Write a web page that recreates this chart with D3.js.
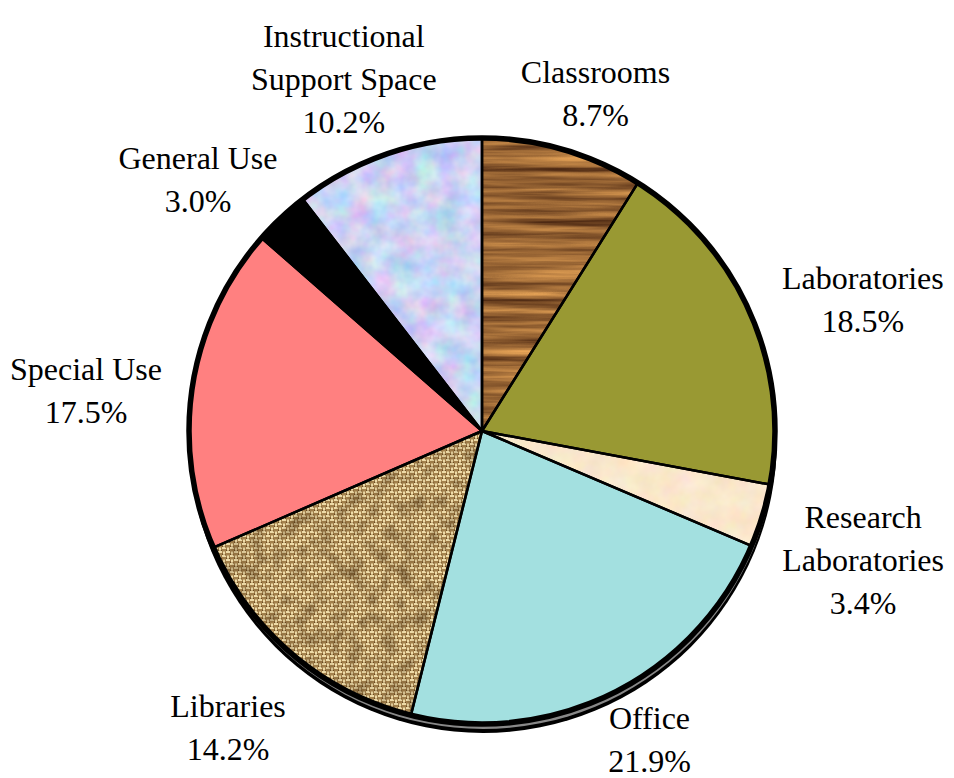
<!DOCTYPE html>
<html>
<head>
<meta charset="utf-8">
<script src="https://cdn.jsdelivr.net/npm/d3@7"></script>
<style>
  body { margin: 0; background: #fff; }
  svg { display: block; }
  text { font-family: "Liberation Serif", "Times New Roman", serif; }
</style>
</head>
<body>
<div id="chart"></div>
<script>
// 空间用途分布饼图
const categories = ['Classrooms', 'Laboratories', 'Research Laboratories', 'Office',
  'Libraries', 'Special Use', 'General Use', 'Instructional Support Space'];
const values = [8.7, 18.5, 3.4, 21.9, 14.2, 17.5, 3.0, 10.2];
const labelLines = [['Classrooms'], ['Laboratories'], ['Research', 'Laboratories'], ['Office'],
  ['Libraries'], ['Special Use'], ['General Use'], ['Instructional', 'Support Space']];
const fills = ['wood', '#999933', 'parchment', '#a3e0e0',
  'burlap', '#ff8080', '#000000', 'bluepaper'];

const width = 954, height = 778;
const cx = 482, cy = 431, R = 293;

const svg = d3.select('#chart').append('svg')
  .attr('width', width).attr('height', height);
const defs = svg.append('defs');

// 纹理滤镜
function noiseFilter(id, freq, octaves, matrix, seed) {
  const f = defs.append('filter').attr('id', id)
    .attr('x', 0).attr('y', 0).attr('width', 1).attr('height', 1)
    .attr('filterUnits', 'objectBoundingBox')
    .attr('color-interpolation-filters', 'sRGB');
  f.append('feTurbulence').attr('type', 'fractalNoise')
    .attr('baseFrequency', freq).attr('numOctaves', octaves).attr('seed', seed || 3);
  f.append('feColorMatrix').attr('type', 'matrix').attr('values', matrix);
}
noiseFilter('woodF', '0.005 0.12', 4,
  '0.9 0 0 0 0.14  0.72 0 0 0 0.03  0.4 0 0 0 0.0  0 0 0 0 1', 7);
noiseFilter('paperF', '0.05', 3,
  '0.06 0 0 0 0.95  0 0.09 0 0 0.86  0 0 0.14 0 0.73  0 0 0 0 1', 2);
noiseFilter('blueF', '0.045', 3,
  '0.38 0 0 0 0.6  0 0.32 0 0 0.67  0 0 0.16 0 0.87  0 0 0 0 1', 5);
noiseFilter('burlapF', '0.06', 2,
  '0 0 0 0 0.3  0 0 0 0 0.2  0 0 0 0 0.08  1.2 0 0 0 -0.52', 9);

// 麻布编织纹理
const weave = defs.append('pattern').attr('id', 'weave')
  .attr('patternUnits', 'userSpaceOnUse').attr('width', 8).attr('height', 8);
weave.append('rect').attr('width', 8).attr('height', 8).attr('fill', '#a4824d');
[[0, 0, 4, 2], [4, 4, 4, 2], [5, 0.5, 2, 3], [1, 4.5, 2, 3]].forEach(r => {
  weave.append('rect').attr('x', r[0]).attr('y', r[1]).attr('width', r[2]).attr('height', r[3])
    .attr('fill', '#eedba8');
});
[[4, 2.5, 1, 1.5], [0, 6.5, 1, 1.5], [3, 7, 1, 1], [7, 3.5, 1, 1]].forEach(r => {
  weave.append('rect').attr('x', r[0]).attr('y', r[1]).attr('width', r[2]).attr('height', r[3])
    .attr('fill', '#6a4b22');
});

const pie = d3.pie().sort(null).value(d => d);
const arcs = pie(values);
const arc = d3.arc().innerRadius(0).outerRadius(R);

// 阴影（底部立体边）
svg.append('circle').attr('cx', cx + 1).attr('cy', cy + 8).attr('r', R + 1)
  .attr('fill', '#000');
svg.append('circle').attr('cx', cx + 1).attr('cy', cy + 5).attr('r', R)
  .attr('fill', '#888');

const g = svg.append('g').attr('transform', `translate(${cx},${cy})`);

arcs.forEach((a, i) => {
  const id = 'clip' + i;
  defs.append('clipPath').attr('id', id).append('path').attr('d', arc(a));
  const sg = g.append('g').attr('clip-path', `url(#${id})`);
  const box = sg.append('rect').attr('x', -R - 2).attr('y', -R - 2)
    .attr('width', 2 * R + 4).attr('height', 2 * R + 4);
  const f = fills[i];
  if (f === 'wood') box.attr('filter', 'url(#woodF)');
  else if (f === 'parchment') box.attr('filter', 'url(#paperF)');
  else if (f === 'bluepaper') box.attr('filter', 'url(#blueF)');
  else if (f === 'burlap') {
    box.attr('fill', 'url(#weave)');
    sg.append('rect').attr('x', -R - 2).attr('y', -R - 2)
      .attr('width', 2 * R + 4).attr('height', 2 * R + 4)
      .attr('filter', 'url(#burlapF)');
  } else box.attr('fill', f);
});

// 扇区边线
g.selectAll('path.slice')
  .data(arcs)
  .join('path')
  .attr('class', 'slice')
  .attr('d', arc)
  .attr('fill', 'none')
  .attr('stroke', '#000')
  .attr('stroke-width', 2.5)
  .attr('stroke-linejoin', 'round');

g.append('circle').attr('r', R).attr('fill', 'none')
  .attr('stroke', '#000').attr('stroke-width', 5.5);

// 标签：沿扇区中线外侧放置，并限制在画布内
const fontSize = 32, lineH = 43, rx = 335, ry = 325, dyShift = 16, margin = 10;
arcs.forEach((a, i) => {
  const lines = labelLines[i].concat([values[i].toFixed(1) + '%']);
  const lg = svg.append('g');
  const t = lg.append('text')
    .attr('font-size', fontSize)
    .attr('text-anchor', 'middle')
    .attr('fill', '#000');
  lines.forEach((s, k) => {
    t.append('tspan').attr('x', 0).attr('y', lineH * (k + 0.5) - lines.length * lineH / 2)
      .attr('dy', '0.35em').text(s);
  });
  const w = t.node().getBBox().width;
  const h = lines.length * lineH;
  const mid = (a.startAngle + a.endAngle) / 2;
  const sx = Math.sin(mid), sy = -Math.cos(mid);
  let x = cx + sx * (rx + w / 2);
  let y = cy + dyShift + sy * (ry + h / 2);
  x = Math.max(w / 2 + margin, Math.min(width - w / 2 - margin, x));
  y = Math.max(h / 2 - 2, Math.min(height - 17 - (h - lineH) / 2, y));
  lg.attr('transform', `translate(${x},${y})`);
});
</script>
</body>
</html>
